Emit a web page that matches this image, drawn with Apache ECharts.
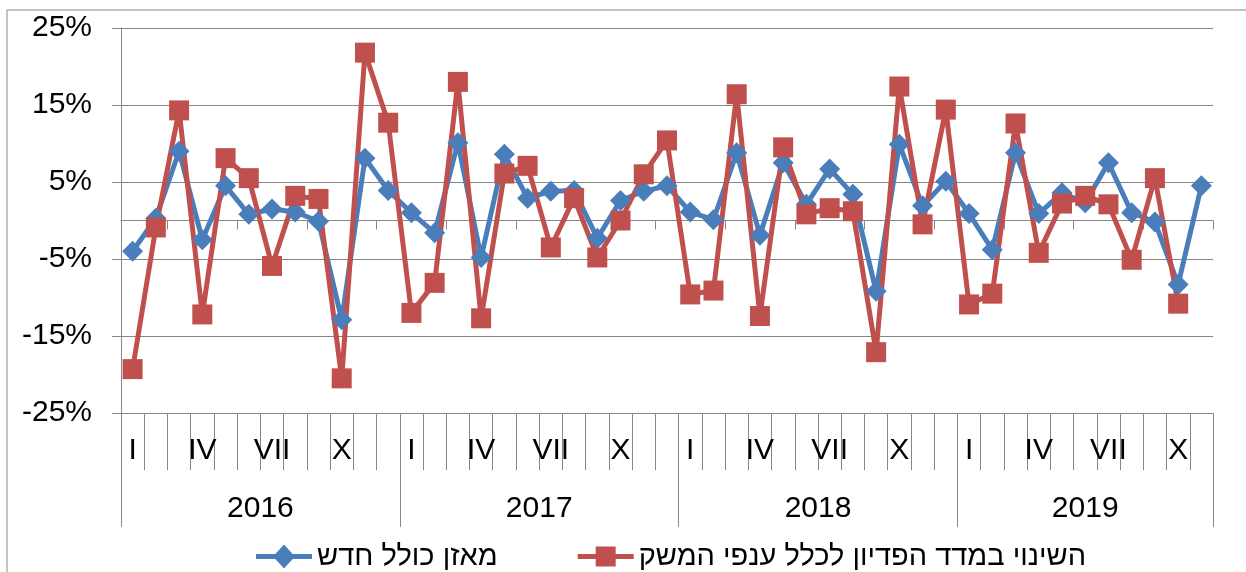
<!doctype html>
<html lang="he">
<head>
<meta charset="UTF-8">
<title>chart</title>
<style>
  html, body { margin: 0; padding: 0; background: #fff; }
  #myChart { width: 1246px; height: 572px; }
</style>
</head>
<body>
<div id="myChart"></div>
<script src="https://cdn.jsdelivr.net/npm/echarts@6/dist/echarts.min.js"></script>
<script>
// data
var years = ['2016', '2017', '2018', '2019'];
var monthsInYear = [12, 12, 12, 11];
var monthNames = ['I', '', '', 'IV', '', '', 'VII', '', '', 'X', '', ''];

var balanceName = 'מאזן כולל חדש';
var turnoverName = 'השינוי במדד הפדיון לכלל ענפי המשק';

var balance = [
    -4.0, 0.3, 9.0, -2.5, 4.5, 0.8, 1.5, 1.1, -0.1, -12.9, 8.1, 3.9,
    1.0, -1.6, 10.1, -4.8, 8.6, 2.9, 3.8, 3.9, -2.3, 2.6, 3.8, 4.5,
    1.1, 0.1, 8.8, -1.9, 7.5, 2.1, 6.7, 3.4, -9.2, 9.9, 1.9, 5.1,
    0.9, -3.8, 8.8, 0.9, 3.6, 2.3, 7.5, 1.0, -0.2, -8.3, 4.5
];
var turnover = [
    -19.3, -0.9, 14.3, -12.2, 8.1, 5.5, -5.9, 3.2, 2.8, -20.5, 21.8, 12.7,
    -12.0, -8.1, 18.0, -12.7, 6.1, 7.1, -3.5, 2.9, -4.8, 0.0, 6.0, 10.4,
    -9.6, -9.1, 16.4, -12.4, 9.5, 0.8, 1.6, 1.2, -17.1, 17.4, -0.5, 14.4,
    -10.9, -9.5, 12.6, -4.2, 2.2, 3.2, 2.1, -5.1, 5.5, -10.8
];

// category labels for months, and half-step slots for the year row
var monthLabels = [];
var yearSlots = [];
var yearTicks = [0];
var start = 0;
for (var y = 0; y < years.length; y++) {
    for (var m = 0; m < monthsInYear[y]; m++) monthLabels.push(monthNames[m]);
    var end = start + monthsInYear[y];
    yearTicks.push(end * 2);
    start = end;
}
for (var k = 0; k <= monthLabels.length * 2; k++) yearSlots.push('');
start = 0;
for (var y2 = 0; y2 < years.length; y2++) {
    yearSlots[start * 2 + monthsInYear[y2]] = years[y2];
    start += monthsInYear[y2];
}

var gray = '#868686';
var font = 'Liberation Sans, Arial, sans-serif';

// legend icons: line with marker in the middle
var diamondIcon = 'path://M0,9.5 L19.3,9.5 L28,0 L36.7,9.5 L56,9.5 L56,14.5 L36.7,14.5 L28,24 L19.3,14.5 L0,14.5 Z';
var squareIcon = 'path://M0,9.5 L18,9.5 L18,2 L38,2 L38,9.5 L56,9.5 L56,14.5 L38,14.5 L38,22 L18,22 L18,14.5 L0,14.5 Z';

var myChart = echarts.init(document.getElementById('myChart'));
var option = {
    backgroundColor: '#fff',
    animation: false,
    textStyle: { fontFamily: font },
    graphic: [{
        type: 'rect',
        shape: { x: 7, y: 10, width: 1260, height: 600 },
        style: { fill: 'none', stroke: gray, lineWidth: 1 },
        silent: true
    }],
    grid: { left: 121, right: 33, top: 28, bottom: 159 },
    legend: {
        left: 251,
        top: 537,
        itemWidth: 56,
        itemHeight: 24,
        itemGap: 80,
        textStyle: { fontSize: 29, color: '#000', fontFamily: font },
        data: [
            { name: balanceName, icon: diamondIcon },
            { name: turnoverName, icon: squareIcon }
        ]
    },
    xAxis: [
        {
            // axis line across zero
            type: 'category',
            data: monthLabels,
            position: 'bottom',
            axisLine: { onZero: true, lineStyle: { color: gray, width: 1 } },
            axisTick: {
                show: true,
                length: 9,
                lineStyle: { color: gray },
                interval: function (i) { return (i - 2) % 3 === 0; }
            },
            axisLabel: { show: false },
            splitLine: { show: false }
        },
        {
            // month row
            type: 'category',
            data: monthLabels,
            position: 'bottom',
            axisLine: { onZero: false, lineStyle: { color: gray, width: 1 } },
            axisTick: { show: true, interval: 0, length: 57, lineStyle: { color: gray } },
            axisLabel: { interval: 0, margin: 23, fontSize: 30, color: '#000', fontFamily: font },
            splitLine: { show: false }
        },
        {
            // year row
            type: 'category',
            data: yearSlots,
            boundaryGap: false,
            position: 'bottom',
            axisLine: { show: false, onZero: false },
            axisTick: {
                show: true,
                length: 114,
                lineStyle: { color: gray },
                interval: function (i) { return yearTicks.indexOf(i) >= 0; }
            },
            axisLabel: { interval: 0, margin: 81, fontSize: 30, color: '#000', fontFamily: font },
            splitLine: { show: false }
        }
    ],
    yAxis: {
        type: 'value',
        min: -25,
        max: 25,
        interval: 10,
        axisLine: { show: true, lineStyle: { color: gray, width: 1 } },
        axisTick: { show: true, length: 9, lineStyle: { color: gray } },
        axisLabel: { formatter: '{value}%', margin: 29, fontSize: 30, color: '#000', fontFamily: font },
        splitLine: { show: true, lineStyle: { color: gray, width: 1 } }
    },
    series: [
        {
            name: balanceName,
            type: 'line',
            xAxisIndex: 1,
            data: balance,
            symbol: 'diamond',
            symbolSize: 21,
            color: '#4A7EBB',
            lineStyle: { width: 5, color: '#4A7EBB' },
            itemStyle: { color: '#4A7EBB' }
        },
        {
            name: turnoverName,
            type: 'line',
            xAxisIndex: 1,
            data: turnover,
            symbol: 'rect',
            symbolSize: 20,
            color: '#C0504D',
            lineStyle: { width: 5, color: '#C0504D' },
            itemStyle: { color: '#C0504D' }
        }
    ]
};
myChart.setOption(option);
</script>
</body>
</html>
